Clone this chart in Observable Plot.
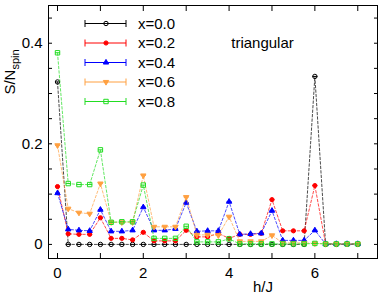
<!DOCTYPE html>
<html><head><meta charset="utf-8">
<script src="https://cdn.jsdelivr.net/npm/d3@7"></script>
<script src="https://cdn.jsdelivr.net/npm/@observablehq/plot@0.6"></script>
<style>
body{margin:0;background:#fff;}
#chart svg{font-family:"Liberation Sans",Arial,sans-serif;background:#fff;}
</style>
</head><body><div id="chart"></div>
<script>
// ---- data ----
const hJ = [0,0.25,0.5,0.75,1,1.25,1.5,1.75,2,2.25,2.5,2.75,3,3.25,3.5,3.75,4,4.25,4.5,4.75,5,5.25,5.5,5.75,6,6.25,6.5,6.75,7];
const seriesNames = ["x=0.0","x=0.2","x=0.4","x=0.6","x=0.8"];
const sX00 = [0.323,0,0,0,0,0,0,0,0,0,0,0,0,0,0,0,0,0,0,0,0,0,0,0,0.334,0,0,0,0];
const sX02 = [0.115,0.021,0.020,0.020,0.053,0.012,0.012,0.009,0.024,0.007,0.007,0.007,0.028,0.015,0.015,0.022,0.012,0.020,0.020,0.022,0.089,0.027,0.027,0.027,0.117,0.001,0.001,0.001,0.001];
const sX04 = [0.102,0.030,0.028,0.027,0.069,0.026,0.026,0.028,0.074,0.028,0.028,0.031,0.083,0.026,0.027,0.027,0.085,0.020,0.021,0.022,0.067,0.008,0.008,0.008,0.028,0.001,0.001,0.001,0.001];
const sX06 = [0.197,0.071,0.063,0.061,0.121,0.044,0.044,0.044,0.137,0.035,0.035,0.035,0.094,0.019,0.019,0.018,0.055,0.006,0.006,0.006,0.018,0.003,0.003,0.003,0.002,0.001,0.001,0.001,0.001];
const sX08 = [0.381,0.121,0.119,0.119,0.188,0.044,0.045,0.045,0.118,0.012,0.012,0.012,0.036,0.005,0.005,0.005,0.011,0.001,0.001,0.001,0.001,0.001,0.001,0.001,0.002,0.001,0.001,0.001,0.001];
const seriesValues = [sX00,sX02,sX04,sX06,sX08];
const colors = ["#000000","#ff0000","#0000ff","#ffa040","#22dd22"];
const yTickLabels = [0,0.2,0.4];
const yMinorTicks = [0,0.05,0.1,0.15,0.2,0.25,0.3,0.35,0.4,0.45];
const xTickLabels = [0,2,4,6];
const xMinorTicks = [0,1,2,3,4,5,6,7];
const annotation = "triangular";
const xLabel = "h/J";

// ---- styles per series ----
const capSymbol = {draw(ctx, size){ const r = Math.sqrt(size/Math.PI); ctx.moveTo(-r,0); ctx.lineTo(r,0); }};
const styles = [
  {symbol:"circle", fill:"none", r:2.2, rotate:0},
  {symbol:"circle", fill:"#ff0000", r:2.1, rotate:0},
  {symbol:"triangle", fill:"#0000ff", r:2.0, rotate:0},
  {symbol:"triangle", fill:"#ffa040", r:2.0, rotate:180},
  {symbol:"square", fill:"none", r:2.5, rotate:0}
];

const tables = seriesValues.map((vals,i)=> vals.map((v,j)=>({series:seriesNames[i], h:hJ[j], s:v})));

const marks = [];
tables.forEach((data,i)=>{
  marks.push(Plot.line(data,{x:"h",y:"s",stroke:colors[i],strokeWidth:1,strokeDasharray:"2.5,2",strokeOpacity:0.7}));
  marks.push(Plot.dot(data,{x:"h",y:"s",symbol:capSymbol,r:2.5,stroke:colors[i],strokeWidth:1}));
  marks.push(Plot.dot(data,{x:"h",y:"s",symbol:styles[i].symbol,r:styles[i].r,rotate:styles[i].rotate,stroke:colors[i],fill:styles[i].fill,strokeWidth:1}));
});

const plot = Plot.plot({
  width:382, height:301,
  marginLeft:48, marginRight:5, marginTop:5, marginBottom:43,
  style:{fontFamily:"Liberation Sans, Arial, sans-serif", fontSize:"15px", color:"#000", background:"#fff"},
  x:{domain:[-0.21,7.46]},
  y:{domain:[-0.028,0.475]},
  marks:[
    ...marks,
    Plot.frame({stroke:"#000", strokeWidth:1}),
    Plot.axisY({ticks:yTickLabels, tickSize:0, tickPadding:6, tickFormat:d=>d===0?"0":String(d), fontSize:15, label:null}),
    Plot.axisY({anchor:"left", ticks:yMinorTicks, tickSize:-4, text:null, label:null}),
    Plot.axisY({anchor:"right", ticks:yMinorTicks, tickSize:-4, text:null, label:null}),
    Plot.axisX({ticks:xTickLabels, tickSize:0, tickPadding:9, fontSize:15, label:null}),
    Plot.axisX({anchor:"bottom", ticks:xMinorTicks, tickSize:-5, text:null, label:null}),
    Plot.axisX({anchor:"top", ticks:xMinorTicks, tickSize:-5, text:null, label:null}),
    Plot.text([xLabel],{frameAnchor:"bottom", dx:50, dy:29, text:d=>d, fontSize:15, lineAnchor:"middle"}),
    Plot.text([annotation],{frameAnchor:"top-left", dx:214, dy:38, text:d=>d, fontSize:15, textAnchor:"middle", lineAnchor:"middle"})
  ]
});
document.getElementById("chart").appendChild(plot);

// ---- y label with subscript ----
const svg = d3.select(plot);
const yl = svg.append("text")
  .attr("transform","translate(15,72) rotate(-90)")
  .attr("text-anchor","middle")
  .attr("font-size",15)
  .attr("fill","#000");
yl.append("tspan").text("S/N");
yl.append("tspan").attr("font-size",11).attr("dy",4).text("spin");

// ---- legend ----
const lg = svg.append("g");
const rowsY = [23.5,43,62.5,82,101.5];
seriesNames.forEach((name,i)=>{
  const y = rowsY[i];
  const g = lg.append("g").attr("stroke",colors[i]).attr("stroke-width",1);
  g.append("line").attr("x1",85).attr("x2",126).attr("y1",y).attr("y2",y);
  g.append("line").attr("x1",85).attr("x2",85).attr("y1",y-3.5).attr("y2",y+3.5);
  g.append("line").attr("x1",126).attr("x2",126).attr("y1",y-3.5).attr("y2",y+3.5);
  const st = styles[i];
  const symType = st.symbol==="circle"?d3.symbolCircle:st.symbol==="triangle"?d3.symbolTriangle:d3.symbolSquare;
  g.append("path").attr("d", d3.symbol(symType, st.r*st.r*Math.PI)())
    .attr("transform",`translate(106,${y}) rotate(${st.rotate})`)
    .attr("fill", st.fill==="none"?"none":st.fill);
  lg.append("text").attr("x",138).attr("y",y).attr("dy","0.35em")
    .attr("text-anchor","start").attr("font-size",15).attr("fill","#000").text(name);
});
</script>
</body></html>
